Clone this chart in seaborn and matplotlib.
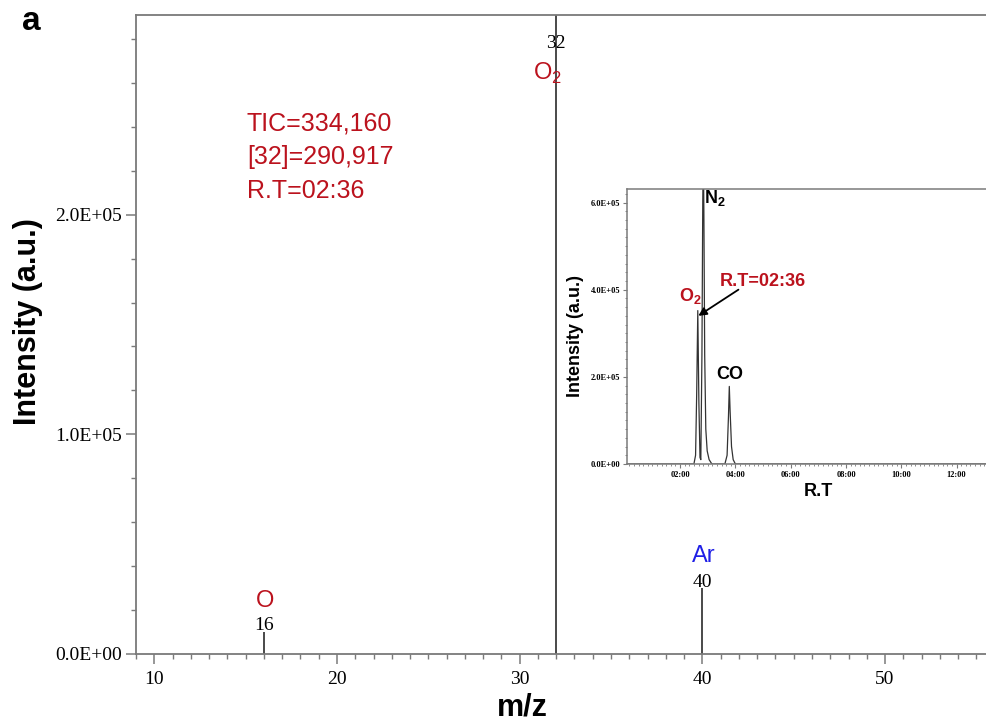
import matplotlib
matplotlib.use("Agg")
import matplotlib.pyplot as plt
from matplotlib.ticker import FixedLocator, MultipleLocator, FixedFormatter
import seaborn as sns

# ---------------- data ----------------
mz = [16, 32, 40]
mz_intensity = [10000, 290917, 30000]
mz_labels = ["16", "32", "40"]
ion_names = ["O", "O$_\\mathregular{2}$", "Ar"]

y_ticks = [0, 100000, 200000]
y_tick_labels = ["0.0E+00", "1.0E+05", "2.0E+05"]
x_ticks = [10, 20, 30, 40, 50]

info_lines = ["TIC=334,160", "[32]=290,917", "R.T=02:36"]

# chromatogram (retention time in minutes, intensity)
rt = [0.05, 2.50, 2.56, 2.60, 2.64, 2.68, 2.72, 2.75, 2.79, 2.82, 2.84, 2.86,
      2.89, 2.93, 2.98, 3.05, 3.15, 3.62, 3.70, 3.75, 3.78, 3.81, 3.86, 3.92,
      4.00, 13.1]
tic = [0, 0, 20000, 160000, 352000, 140000, 15000, 10000, 250000, 600000,
       720000, 580000, 250000, 80000, 30000, 10000, 0, 0, 20000, 110000,
       178000, 120000, 40000, 10000, 0, 0]
rt_ticks = [2, 4, 6, 8, 10, 12]
rt_tick_labels = ["02:00", "04:00", "06:00", "08:00", "10:00", "12:00"]
rt_y_ticks = [0, 200000, 400000, 600000]
rt_y_tick_labels = ["0.0E+00", "2.0E+05", "4.0E+05", "6.0E+05"]

# ---------------- style ----------------
sns.set_theme(style="white")
plt.rcParams["font.family"] = ["Liberation Sans", "DejaVu Sans"]
plt.rcParams["mathtext.fontset"] = "custom"
plt.rcParams["mathtext.rm"] = "Liberation Sans"
plt.rcParams["mathtext.bf"] = "Liberation Sans:bold"
plt.rcParams["text.color"] = "black"
plt.rcParams["axes.labelcolor"] = "black"
plt.rcParams["xtick.color"] = "black"
plt.rcParams["ytick.color"] = "black"

RED = "#bb121d"
BLUE = "#1f1fe6"
SPINE = "#7a7a7a"
SERIF = "Liberation Serif"

W, H = 987, 722
fig = plt.figure(figsize=(W / 100, H / 100), dpi=100)
fig.patch.set_facecolor("white")

ax = fig.add_axes([136 / W, 1 - 654 / H, 1 - 136 / W, (654 - 15) / H])
ax.set_facecolor("white")
ax.vlines(mz, 0, mz_intensity, color="#2a2a2a", linewidth=1.2, zorder=2)
ax.set_xlim(9.0, 55.58)
ax.set_ylim(0, 290900)

for s in ["left", "bottom", "top"]:
    ax.spines[s].set_color(SPINE)
    ax.spines[s].set_linewidth(1.3)
ax.spines["right"].set_visible(False)

ax.xaxis.set_major_locator(FixedLocator(x_ticks))
ax.xaxis.set_minor_locator(MultipleLocator(1))
ax.yaxis.set_major_locator(FixedLocator(y_ticks))
ax.yaxis.set_major_formatter(FixedFormatter(y_tick_labels))
ax.yaxis.set_minor_locator(MultipleLocator(20000))
ax.tick_params(axis="both", which="major", direction="out", length=7,
               width=1.1, color=SPINE, labelsize=14, labelcolor="black",
               bottom=True, left=True, top=False, right=False)
ax.tick_params(axis="both", which="minor", direction="out", length=3.5,
               width=1.0, color=SPINE, bottom=True, left=True, top=False,
               right=False)
ax.tick_params(axis="x", which="major", pad=5)
ax.tick_params(axis="y", which="major", pad=3)
for lab in ax.get_xticklabels() + ax.get_yticklabels():
    lab.set_fontfamily(SERIF)

# peak labels
num_y = [12800, 278000, 32400]
name_y = [24200, 264500, 44700]
name_x = [16.05, 31.55, 40.05]
name_colors = [RED, RED, BLUE]
for x, lab, ny in zip(mz, mz_labels, num_y):
    ax.text(x, ny, lab, ha="center", va="center", fontsize=14,
            fontfamily=SERIF, color="black", zorder=3)
for x, lab, ny, c in zip(name_x, ion_names, name_y, name_colors):
    ax.text(x, ny, lab, ha="center", va="center", fontsize=17, color=c,
            zorder=3)

info_y = [241600, 226100, 210700]
for t, yy in zip(info_lines, info_y):
    ax.text(15.07, yy, t, ha="left", va="center", fontsize=18, color=RED)

fig.text(28 / W, 1 - 322 / H, "Intensity (a.u.)", rotation=90, ha="center",
         va="center", fontsize=22, fontweight="bold", color="black")
fig.text(522 / W, 1 - 707 / H, "m/z", ha="center", va="center", fontsize=22,
         fontweight="bold", color="black")
fig.text(22 / W, 1 - 21 / H, "a", ha="left", va="center", fontsize=24,
         fontweight="bold", color="black")

# ---------------- inset ----------------
ax2 = fig.add_axes([627 / W, 1 - 464 / H, 1 - 627 / W, (464 - 189) / H])
ax2.set_facecolor("white")
sns.lineplot(x=rt, y=tic, ax=ax2, color="#333333", linewidth=0.9, sort=False,
             estimator=None)
ax2.set_xlim(0.08, 13.1)
ax2.set_ylim(0, 631000)
for s in ["left", "bottom", "top"]:
    ax2.spines[s].set_color(SPINE)
    ax2.spines[s].set_linewidth(1.1)
ax2.spines["right"].set_visible(False)
ax2.set_xlabel("")
ax2.set_ylabel("")
ax2.xaxis.set_major_locator(FixedLocator(rt_ticks))
ax2.xaxis.set_major_formatter(FixedFormatter(rt_tick_labels))
ax2.xaxis.set_minor_locator(MultipleLocator(1 / 6))
ax2.yaxis.set_major_locator(FixedLocator(rt_y_ticks))
ax2.yaxis.set_major_formatter(FixedFormatter(rt_y_tick_labels))
ax2.yaxis.set_minor_locator(MultipleLocator(20000))
ax2.tick_params(axis="both", which="major", direction="out", length=3,
                width=0.8, color=SPINE, labelsize=6, labelcolor="black",
                pad=2, bottom=True, left=True, top=False, right=False)
ax2.tick_params(axis="both", which="minor", direction="out", length=1.5,
                width=0.6, color=SPINE, bottom=True, left=True, top=False,
                right=False)
for lab in ax2.get_xticklabels() + ax2.get_yticklabels():
    lab.set_fontfamily(SERIF)
    lab.set_fontweight("bold")

ax2.text(3.26, 611000, "N$_\\mathregular{2}$", ha="center", va="center",
         fontsize=13, fontweight="bold", color="black")
ax2.text(2.36, 386000, "O$_\\mathregular{2}$", ha="center", va="center",
         fontsize=13, fontweight="bold", color=RED)
ax2.text(3.42, 419000, "R.T=02:36", ha="left", va="center", fontsize=13,
         fontweight="bold", color=RED)
ax2.text(3.78, 206000, "CO", ha="center", va="center", fontsize=13,
         fontweight="bold", color="black")
ax2.annotate("", xy=(2.66, 340000), xytext=(4.11, 400000),
             arrowprops=dict(arrowstyle="-|>", color="black", lw=1.3,
                             mutation_scale=12, shrinkA=0, shrinkB=0))

fig.text(575 / W, 1 - 336 / H, "Intensity (a.u.)", rotation=90, ha="center",
         va="center", fontsize=13, fontweight="bold", color="black")
fig.text(818 / W, 1 - 492 / H, "R.T", ha="center", va="center", fontsize=13,
         fontweight="bold", color="black")

fig.savefig("out.png", dpi=100, facecolor="white")
